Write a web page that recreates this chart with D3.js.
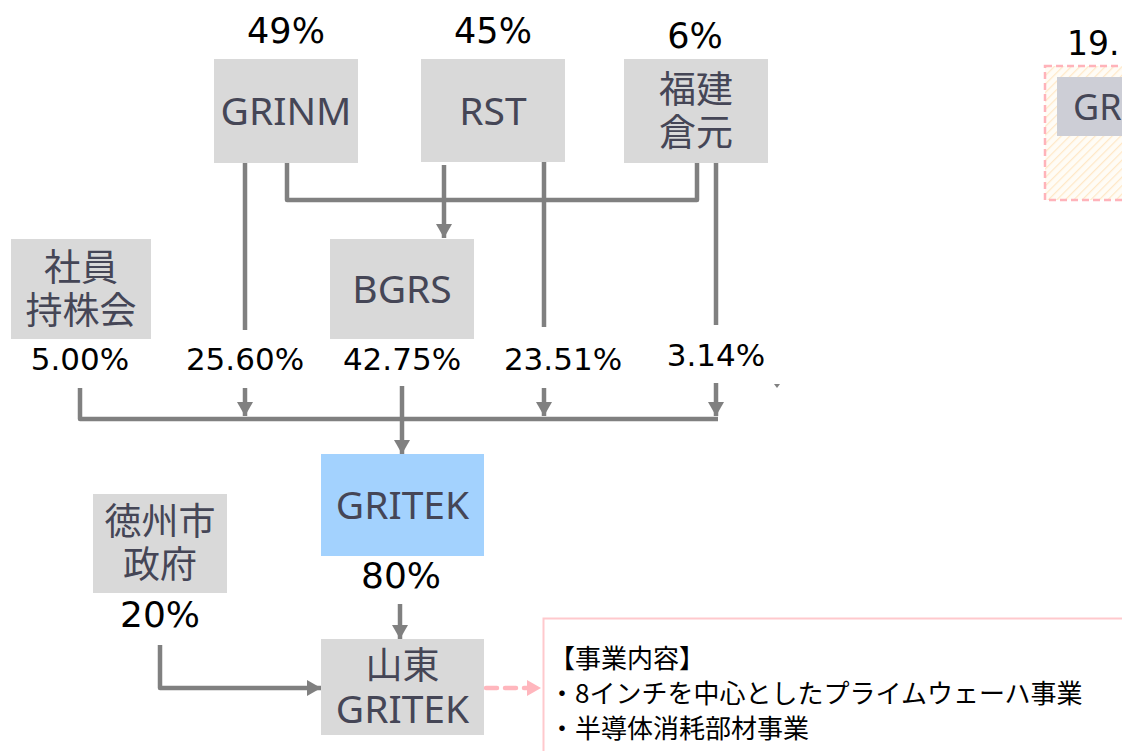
<!DOCTYPE html>
<html>
<head>
<meta charset="utf-8">
<script src="https://cdn.jsdelivr.net/npm/d3@7"></script>
<style>
    body { margin: 0; background: #fff; }
    .pct { font-family: 'DejaVu Sans', Verdana, sans-serif; fill: #000; }
    .box-label { font-family: 'Noto Sans', 'Noto Sans CJK JP', sans-serif; fill: #454656; }
    .cjk { font-family: 'Noto Sans CJK JP', sans-serif; }
    .link { fill: none; stroke: #808080; stroke-width: 4.5; stroke-linejoin: round; }
</style>
</head>
<body>
<div class="container"></div>
<script>
// --- data ---
const TOP_OWNERS = ['GRINM', 'RST', '福建倉元'];
const TOP_SHARES = ['49%', '45%', '6%'];

const GRITEK_HOLDERS = ['社員持株会', 'GRINM', 'BGRS', 'RST', '福建倉元'];
const GRITEK_SHARES = ['5.00%', '25.60%', '42.75%', '23.51%', '3.14%'];

const SUB_HOLDERS = ['GRITEK', '徳州市政府'];
const SUB_SHARES = ['80%', '20%'];

const BUSINESS_LINES = ['【事業内容】', '・8インチを中心としたプライムウェーハ事業', '・半導体消耗部材事業'];

const SIDE_SHARE = '19.';
const SIDE_NAME = 'GR';

// how each name is broken into lines inside its box
const LABEL_LINES = {
    'GRINM': ['GRINM'],
    'RST': ['RST'],
    '福建倉元': ['福建', '倉元'],
    '社員持株会': ['社員', '持株会'],
    'BGRS': ['BGRS'],
    'GRITEK': ['GRITEK'],
    '徳州市政府': ['徳州市', '政府'],
    '山東GRITEK': ['山東', 'GRITEK']
};

// --- layout ---
const WIDTH = 1122;
const HEIGHT = 751;

const BOXES = {
    'GRINM': [214, 59, 144, 104],
    'RST': [421, 59, 144, 103],
    '福建倉元': [624, 59, 144, 104],
    '社員持株会': [11, 239, 140, 100],
    'BGRS': [330, 239, 144, 100],
    'GRITEK': [321, 454, 163, 102],
    '徳州市政府': [93, 494, 134, 99],
    '山東GRITEK': [321, 639, 163, 96]
};

// column positions of the share labels
const shareColX = d3.scaleOrdinal().domain(GRITEK_HOLDERS).range([80, 245, 402, 544, 716]);
const shareLabelX = d3.scaleOrdinal().domain(GRITEK_HOLDERS).range([80, 245, 402, 563, 716]);
const shareY = d3.scaleOrdinal().domain(GRITEK_HOLDERS).range([370, 370, 370, 370, 366]);
const topShareX = d3.scaleOrdinal().domain(TOP_OWNERS).range([286, 493, 695]);
const topShareY = d3.scaleOrdinal().domain(TOP_OWNERS).range([43, 43, 48]);
const subX = d3.scaleOrdinal().domain(SUB_HOLDERS).range([401, 160]);
const subY = d3.scaleOrdinal().domain(SUB_HOLDERS).range([588, 627]);

const BUS_Y = 419;
const ARROW_TIP_Y = 416;

const svg = d3.select('.container').append('svg')
    .attr('width', WIDTH)
    .attr('height', HEIGHT);

const defs = svg.append('defs');

const addMarker = function (id, color) {
    defs.append('marker')
        .attr('id', id)
        .attr('viewBox', '0 0 14 16')
        .attr('refX', 14)
        .attr('refY', 8)
        .attr('markerWidth', 14)
        .attr('markerHeight', 16)
        .attr('markerUnits', 'userSpaceOnUse')
        .attr('orient', 'auto')
        .append('path')
        .attr('d', 'M0,0 L14,8 L0,16 Z')
        .attr('fill', color);
};
addMarker('arrow', '#808080');
addMarker('arrowPink', '#ffb6bd');

const hatch = defs.append('pattern')
    .attr('id', 'hatch')
    .attr('patternUnits', 'userSpaceOnUse')
    .attr('width', 6)
    .attr('height', 6)
    .attr('patternTransform', 'rotate(45)');
hatch.append('rect').attr('width', 6).attr('height', 6).attr('fill', '#fffcf6');
hatch.append('line')
    .attr('x1', 0).attr('y1', 0).attr('x2', 0).attr('y2', 6)
    .attr('stroke', '#ffe8c8').attr('stroke-width', 2.5);

// --- links ---
const links = svg.append('g');
const line = d3.line();

const addLink = function (pts, arrow, cls) {
    let p = links.append('path')
        .attr('class', cls || 'link')
        .attr('d', line(pts));
    if (arrow) p.attr('marker-end', `url(#${arrow})`);
    return p;
};

// GRINM / 福建 -> BGRS joint
addLink([[287, 163], [287, 200], [697, 200], [697, 163]]);
addLink([[444, 165], [444, 238]], 'arrow');

// long verticals down to the share labels
addLink([[shareColX('GRINM'), 163], [shareColX('GRINM'), 330]]);
addLink([[shareColX('RST'), 162], [shareColX('RST'), 327]]);
addLink([[shareColX('福建倉元'), 163], [shareColX('福建倉元'), 325]]);

// bus into GRITEK
addLink([[shareColX('社員持株会'), 388], [shareColX('社員持株会'), BUS_Y], [718, BUS_Y]]);
['GRINM', 'RST'].forEach(k => addLink([[shareColX(k), 388], [shareColX(k), ARROW_TIP_Y]], 'arrow'));
addLink([[shareColX('福建倉元'), 383], [shareColX('福建倉元'), ARROW_TIP_Y]], 'arrow');
addLink([[shareColX('BGRS'), 386], [shareColX('BGRS'), 454]], 'arrow');

// GRITEK -> 山東GRITEK, 徳州 -> 山東GRITEK
addLink([[400, 604], [400, 639]], 'arrow');
addLink([[subX('徳州市政府'), 645], [subX('徳州市政府'), 688], [321, 688]], 'arrow');

// tiny stray marker
svg.append('path').attr('d', 'M774,384 L780,384 L777,388 Z').attr('fill', '#808080');

// --- boxes ---
const drawBox = function (name, fill) {
    let [x, y, w, h] = BOXES[name];
    let g = svg.append('g');
    g.append('rect')
        .attr('x', x).attr('y', y).attr('width', w).attr('height', h)
        .attr('fill', fill || '#d9d9d9');
    let lines = LABEL_LINES[name];
    let lh = 43;
    let cy = y + h / 2;
    let text = g.append('text')
        .attr('class', 'box-label')
        .attr('text-anchor', 'middle');
    lines.forEach((t, i) => {
        let isCjk = /[^\x00-\x7f]/.test(t);
        text.append('tspan')
            .attr('class', isCjk ? 'cjk' : null)
            .attr('x', x + w / 2)
            .attr('y', cy + (i - (lines.length - 1) / 2) * lh)
            .attr('dy', '0.36em')
            .attr('font-size', isCjk ? 37 : 39)
            .text(t);
    });
};

Object.keys(BOXES).forEach(k => drawBox(k, k === 'GRITEK' ? '#a3d2fe' : '#d9d9d9'));

// --- share labels ---
svg.append('g').selectAll('text').data(TOP_OWNERS)
    .enter().append('text')
    .attr('class', 'pct')
    .attr('x', d => topShareX(d))
    .attr('y', d => topShareY(d))
    .attr('text-anchor', 'middle')
    .attr('font-size', 35)
    .text((d, i) => TOP_SHARES[i]);

svg.append('g').selectAll('text').data(GRITEK_HOLDERS)
    .enter().append('text')
    .attr('class', 'pct')
    .attr('x', d => shareLabelX(d))
    .attr('y', d => shareY(d))
    .attr('text-anchor', 'middle')
    .attr('font-size', 31)
    .text((d, i) => GRITEK_SHARES[i]);

svg.append('g').selectAll('text').data(SUB_HOLDERS)
    .enter().append('text')
    .attr('class', 'pct')
    .attr('x', d => subX(d))
    .attr('y', d => subY(d))
    .attr('text-anchor', 'middle')
    .attr('font-size', 36)
    .text((d, i) => SUB_SHARES[i]);

// --- business description ---
addLink([[486, 688], [541, 688]], 'arrowPink')
    .style('stroke', '#ffb6bd')
    .style('stroke-dasharray', '11,8')
    .style('stroke-linecap', 'round');

svg.append('rect')
    .attr('x', 543.5).attr('y', 618.5).attr('width', 640).attr('height', 200)
    .attr('fill', '#fff')
    .attr('stroke', '#ffc9cd')
    .attr('stroke-width', 2);

svg.append('g').selectAll('text').data(BUSINESS_LINES)
    .enter().append('text')
    .attr('class', 'cjk')
    .attr('x', 549)
    .attr('y', (d, i) => 668 + i * 35)
    .attr('font-size', 26)
    .attr('fill', '#000')
    .text(d => d);

// --- cut-off block on the right ---
svg.append('rect')
    .attr('x', 1045).attr('y', 66).attr('width', 120).attr('height', 134)
    .attr('fill', 'url(#hatch)')
    .attr('stroke', '#ffb3ba')
    .attr('stroke-width', 2.5)
    .attr('stroke-dasharray', '7,4');

svg.append('rect')
    .attr('x', 1057).attr('y', 77).attr('width', 100).attr('height', 59)
    .attr('fill', '#cdced6');

svg.append('text')
    .attr('class', 'box-label')
    .attr('x', 1073).attr('y', 120)
    .attr('font-size', 36)
    .text(SIDE_NAME);

svg.append('text')
    .attr('class', 'pct')
    .attr('x', 1067).attr('y', 55)
    .attr('font-size', 33)
    .text(SIDE_SHARE);
</script>
</body>
</html>
